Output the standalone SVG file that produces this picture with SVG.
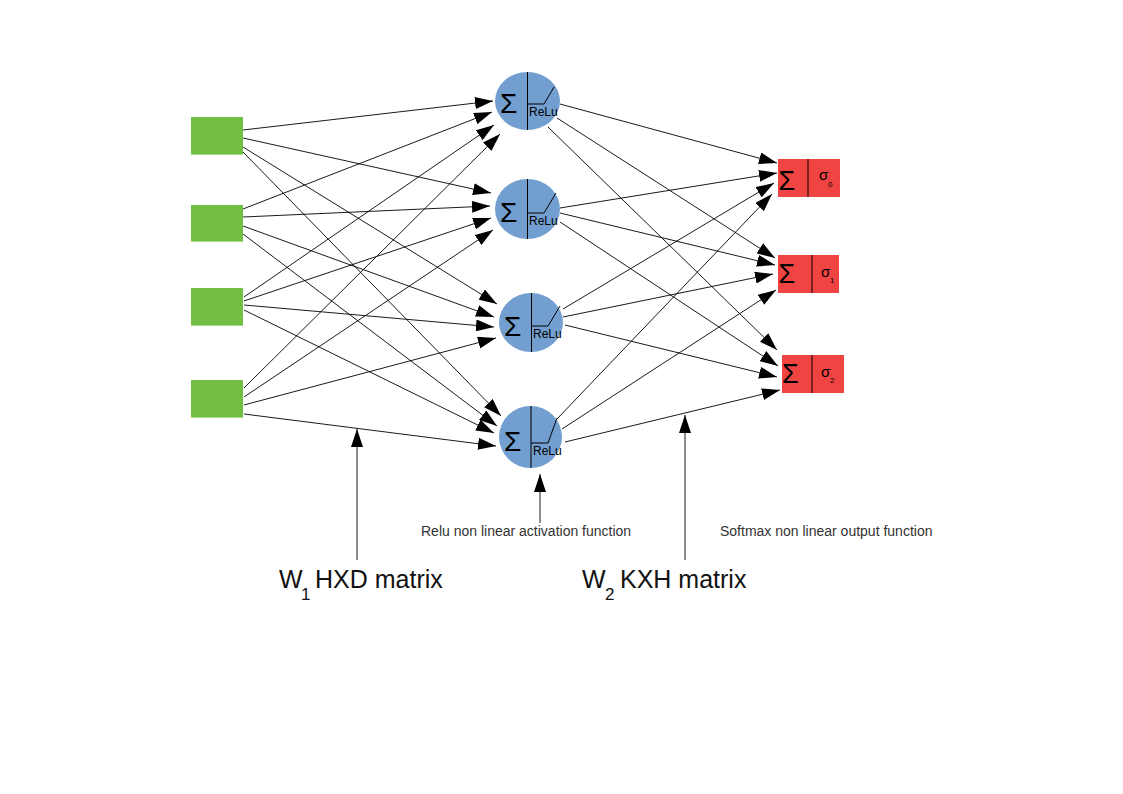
<svg xmlns="http://www.w3.org/2000/svg" width="1123" height="794" viewBox="0 0 1123 794">
<defs>
<marker id="ah" markerUnits="userSpaceOnUse" markerWidth="18" markerHeight="12" refX="18" refY="6" orient="auto">
<path d="M0,0 L18,6 L0,12 z" fill="#000"/>
</marker>
<style>
.inp{fill:#72bf44}
.inpe{stroke:#a6d98a;stroke-width:1}
.hid{fill:#729fcf}
.out{fill:#f04442}
.ln{stroke:#000;stroke-width:1;fill:none}
.cn{stroke:#000;stroke-width:0.9;fill:none;marker-end:url(#ah)}
.sig{font-family:"Liberation Sans",Arial,sans-serif;font-size:28px;fill:#000}
.relu{font-family:"Liberation Sans",Arial,sans-serif;font-size:12px;fill:#000}
.osig{font-family:"Liberation Sans",Arial,sans-serif;font-size:27px;fill:#000}
.sm{font-family:"Liberation Sans",Arial,sans-serif;font-size:15px;fill:#000}
.sub{font-family:"Liberation Sans",Arial,sans-serif;font-size:8px;fill:#000}
.note{font-family:"Liberation Sans",Arial,sans-serif;font-size:14px;fill:#333}
.big{font-family:"Liberation Sans",Arial,sans-serif;font-size:25px;fill:#111}
.bsub{font-family:"Liberation Sans",Arial,sans-serif;font-size:17px;fill:#111}
</style>
</defs>
<rect width="1123" height="794" fill="#fff"/>

<g id="input1"><rect class="inp" x="191" y="117" width="52" height="38"/><line class="inpe" x1="191" y1="154.5" x2="243" y2="154.5"/></g>
<g id="input2"><rect class="inp" x="191" y="205" width="52" height="37"/><line class="inpe" x1="191" y1="241.5" x2="243" y2="241.5"/></g>
<g id="input3"><rect class="inp" x="191" y="288" width="52" height="38"/><line class="inpe" x1="191" y1="325.5" x2="243" y2="325.5"/></g>
<g id="input4"><rect class="inp" x="191" y="380" width="52" height="38"/><line class="inpe" x1="191" y1="417.5" x2="243" y2="417.5"/></g>

<g id="hidden1">
<ellipse class="hid" cx="527.5" cy="101" rx="32.5" ry="29"/>
<line class="ln" x1="527.5" y1="72" x2="527.5" y2="130"/>
<polyline class="ln" points="527.5,104 544,104 554,87"/>
<text class="sig" x="500" y="113">Σ</text>
<text class="relu" x="529" y="115.5">ReLu</text>
</g>
<g id="hidden2">
<ellipse class="hid" cx="527.5" cy="209" rx="32.5" ry="30"/>
<line class="ln" x1="527.5" y1="179" x2="527.5" y2="239"/>
<polyline class="ln" points="527.5,213 544,213 556,193"/>
<text class="sig" x="500" y="222">Σ</text>
<text class="relu" x="529" y="225">ReLu</text>
</g>
<g id="hidden3">
<ellipse class="hid" cx="531" cy="322.5" rx="32" ry="29.5"/>
<line class="ln" x1="531.5" y1="293" x2="531.5" y2="352"/>
<polyline class="ln" points="531.5,326 548,326 560,306"/>
<text class="sig" x="504" y="336">Σ</text>
<text class="relu" x="533" y="338">ReLu</text>
</g>
<g id="hidden4">
<ellipse class="hid" cx="530.5" cy="437" rx="31.5" ry="31"/>
<line class="ln" x1="531" y1="406" x2="531" y2="468"/>
<polyline class="ln" points="531,443 548,443 557,418"/>
<text class="sig" x="504" y="451">Σ</text>
<text class="relu" x="533" y="455">ReLu</text>
</g>

<g id="output0">
<rect class="out" x="778" y="159" width="62" height="38"/>
<line class="ln" x1="808" y1="159" x2="808" y2="197"/>
<text class="osig" x="778.5" y="190">Σ</text>
<text class="sm" x="819" y="180">σ</text><text class="sub" x="828" y="187">0</text>
</g>
<g id="output1">
<rect class="out" x="778" y="255" width="61" height="38"/>
<line class="ln" x1="812" y1="255" x2="812" y2="293"/>
<text class="osig" x="778.5" y="283">Σ</text>
<text class="sm" x="821" y="277">σ</text><text class="sub" x="830" y="283">1</text>
</g>
<g id="output2">
<rect class="out" x="782" y="355" width="62" height="38"/>
<line class="ln" x1="812" y1="355" x2="812" y2="393"/>
<text class="osig" x="782" y="383">Σ</text>
<text class="sm" x="821" y="377">σ</text><text class="sub" x="830" y="383">2</text>
</g>

<g id="connectors">
<line class="cn" x1="243" y1="130" x2="493" y2="101"/>
<line class="cn" x1="243" y1="138" x2="491" y2="193"/>
<line class="cn" x1="243" y1="147" x2="497" y2="304"/>
<line class="cn" x1="243" y1="152" x2="501" y2="416"/>
<line class="cn" x1="243" y1="209" x2="492" y2="112"/>
<line class="cn" x1="243" y1="217" x2="490" y2="206"/>
<line class="cn" x1="243" y1="226" x2="494" y2="317"/>
<line class="cn" x1="243" y1="234" x2="497" y2="426"/>
<line class="cn" x1="244" y1="297" x2="494" y2="125"/>
<line class="cn" x1="244" y1="301" x2="491" y2="218"/>
<line class="cn" x1="244" y1="305" x2="494" y2="327"/>
<line class="cn" x1="244" y1="310" x2="494" y2="433"/>
<line class="cn" x1="244" y1="388" x2="500" y2="134"/>
<line class="cn" x1="244" y1="397" x2="493" y2="230"/>
<line class="cn" x1="244" y1="405" x2="496" y2="338"/>
<line class="cn" x1="244" y1="414" x2="496" y2="446"/>

<line class="cn" x1="560" y1="104" x2="777" y2="163"/>
<line class="cn" x1="557" y1="118" x2="775" y2="258"/>
<line class="cn" x1="548" y1="127" x2="777" y2="350"/>
<line class="cn" x1="560" y1="208" x2="777" y2="173"/>
<line class="cn" x1="560" y1="213" x2="775" y2="265"/>
<line class="cn" x1="560" y1="222" x2="778" y2="366"/>
<line class="cn" x1="563" y1="309" x2="774" y2="183"/>
<line class="cn" x1="563" y1="317" x2="773" y2="274"/>
<line class="cn" x1="565" y1="325" x2="777" y2="377"/>
<line class="cn" x1="556" y1="420" x2="772" y2="194"/>
<line class="cn" x1="562" y1="429" x2="776" y2="290"/>
<line class="cn" x1="565" y1="442" x2="780" y2="390"/>

<line class="cn" x1="357" y1="560" x2="357" y2="429"/>
<line class="cn" x1="540" y1="523" x2="540" y2="474"/>
<line class="cn" x1="685" y1="560" x2="685" y2="415"/>
</g>

<g id="labels">
<text class="note" x="421" y="536">Relu non linear activation function</text>
<text class="note" x="720" y="536">Softmax non linear output function</text>
<text class="big" x="279" y="588">W</text><text class="bsub" x="301" y="600">1</text><text class="big" x="315" y="588">HXD matrix</text>
<text class="big" x="582" y="588">W</text><text class="bsub" x="605" y="600">2</text><text class="big" x="620" y="588">KXH matrix</text>
</g>
</svg>
